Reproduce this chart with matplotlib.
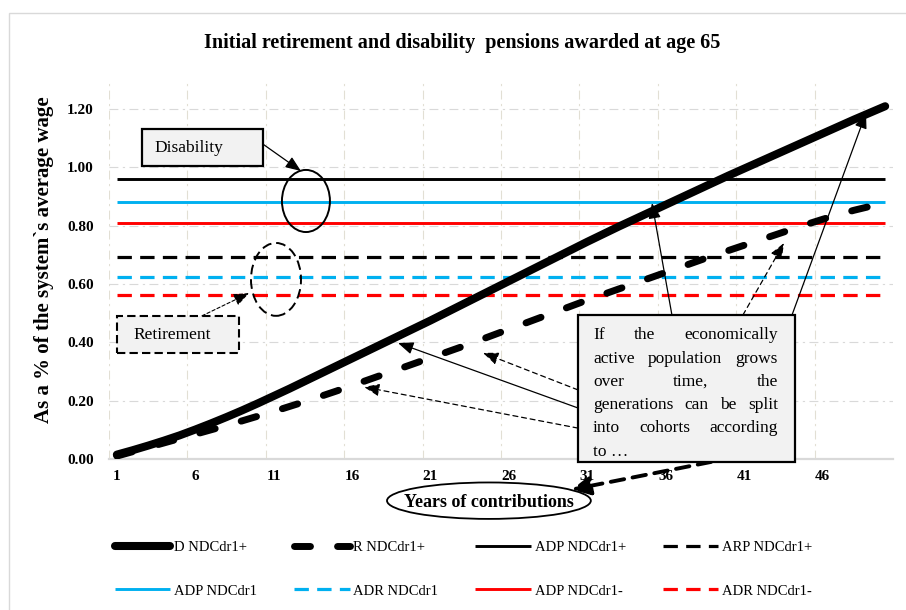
import matplotlib
matplotlib.use("Agg")
import matplotlib.pyplot as plt
from matplotlib.patches import Ellipse, Rectangle

plt.rcParams['font.family'] = ['Liberation Serif', 'DejaVu Serif']

# ---------------- data ----------------
years = list(range(1, 51))
d_ndcdr1_plus = [0.015, 0.030, 0.046, 0.063, 0.081, 0.101, 0.122, 0.144, 0.167, 0.191,
                 0.216, 0.241, 0.267, 0.293, 0.319, 0.345, 0.371, 0.397, 0.423, 0.449,
                 0.475, 0.502, 0.529, 0.556, 0.583, 0.610, 0.637, 0.664, 0.691, 0.718,
                 0.745, 0.771, 0.797, 0.822, 0.847, 0.872, 0.897, 0.922, 0.947, 0.972,
                 0.996, 1.020, 1.044, 1.068, 1.092, 1.116, 1.140, 1.164, 1.187, 1.210]
r_ndcdr1_plus = [0.010, 0.025, 0.040, 0.055, 0.070, 0.085, 0.100, 0.115, 0.131, 0.147,
                 0.163, 0.180, 0.197, 0.215, 0.233, 0.252, 0.271, 0.290, 0.309, 0.328,
                 0.347, 0.366, 0.385, 0.405, 0.425, 0.445, 0.465, 0.485, 0.505, 0.525,
                 0.545, 0.564, 0.583, 0.602, 0.621, 0.640, 0.659, 0.678, 0.697, 0.715,
                 0.733, 0.751, 0.769, 0.787, 0.805, 0.822, 0.838, 0.853, 0.866, 0.878]
adp_ndcdr1_plus = 0.961
arp_ndcdr1_plus = 0.693
adp_ndcdr1 = 0.883
adr_ndcdr1 = 0.625
adp_ndcdr1_minus = 0.809
adr_ndcdr1_minus = 0.563

xtick_values = [1, 6, 11, 16, 21, 26, 31, 36, 41, 46]
ytick_values = [0.0, 0.2, 0.4, 0.6, 0.8, 1.0, 1.2]

title = "Initial retirement and disability  pensions awarded at age 65"
ylabel = "As a % of the system`s average wage"
xlabel = "Years of contributions"
labels = ["D NDCdr1+", "R NDCdr1+", "ADP NDCdr1+", "ARP NDCdr1+",
          "ADP NDCdr1", "ADR NDCdr1", "ADP NDCdr1-", "ADR NDCdr1-"]
box_lines = ["If the economically", "active population grows", "over time, the",
             "generations can be split", "into cohorts according", "to \u2026"]

BLUE = '#00b0f0'
RED = '#ff0000'

# ---------------- figure ----------------
fig = plt.figure(figsize=(9.06, 6.10), dpi=100)
ax = fig.add_axes([109 / 906, 1 - 459 / 610, 784 / 906, 379 / 610])
ax.set_xlim(0.5, 50.5)
ax.set_ylim(0, 1.3)

n = len(years)
solid_kw = dict(lw=2.1, solid_capstyle='butt', zorder=2)
dash_kw = dict(lw=2.3, dashes=(4.5, 2.6), dash_capstyle='butt', zorder=2)
h_adp_p, = ax.plot(years, [adp_ndcdr1_plus] * n, color='black', **solid_kw)
h_arp_p, = ax.plot(years, [arp_ndcdr1_plus] * n, color='black', **dash_kw)
h_adp, = ax.plot(years, [adp_ndcdr1] * n, color=BLUE, **solid_kw)
h_adr, = ax.plot(years, [adr_ndcdr1] * n, color=BLUE, **dash_kw)
h_adp_m, = ax.plot(years, [adp_ndcdr1_minus] * n, color=RED, **solid_kw)
h_adr_m, = ax.plot(years, [adr_ndcdr1_minus] * n, color=RED, **dash_kw)
h_r, = ax.plot(years, r_ndcdr1_plus, color='black', lw=5.0, dashes=(2.3, 3.9),
               dash_capstyle='round', zorder=3)
h_d, = ax.plot(years, d_ndcdr1_plus, color='black', lw=5.8, solid_capstyle='round',
               solid_joinstyle='round', zorder=4)

# axes styling
for s in ['left', 'right', 'top']:
    ax.spines[s].set_visible(False)
ax.spines['bottom'].set_color('#d9d9d9')
ax.spines['bottom'].set_linewidth(1.6)
ax.set_xticks(xtick_values)
ax.set_xticks([0.5 + 5 * k for k in range(10)], minor=True)
ax.set_yticks(ytick_values)
ax.set_yticklabels([f"{v:.2f}" for v in ytick_values])
ax.tick_params(axis='both', which='both', length=0)
ax.tick_params(axis='y', pad=11, labelsize=11)
ax.tick_params(axis='x', pad=8, labelsize=11)
for lab in ax.get_xticklabels() + ax.get_yticklabels():
    lab.set_fontweight('bold')
ax.grid(axis='y', which='major', color='#d9d9d9', lw=0.8, linestyle=(0, (8, 4, 2, 4)), zorder=0)
ax.grid(axis='x', which='minor', color='#e2dfd4', lw=0.8, linestyle=(0, (8, 4, 2, 4)), zorder=0)
ax.set_axisbelow(True)

ax.set_ylabel(ylabel, fontsize=15, fontweight='bold')
ax.yaxis.set_label_coords(-0.07, 0.525)

fig.text(462 / 906, 1 - 43 / 610, title, ha='center', va='center', fontsize=14.5, fontweight='bold')

# outer border
fig.add_artist(Rectangle((9 / 906, -0.05), 1.0, 1 - 13 / 610 + 0.05, transform=fig.transFigure,
                         fill=False, edgecolor='#d9d9d9', lw=1.0))

# ---------------- annotations ----------------
head = '-|>,head_length=0.55,head_width=0.22'

# Disability box
ax.add_patch(Rectangle((2.60, 1.005), 7.72, 0.127, facecolor='#f2f2f2', edgecolor='black',
                       lw=1.6, zorder=6, clip_on=False))
ax.text(3.43, 1.066, "Disability", fontsize=12.5, va='center', ha='left', zorder=7)
ax.annotate("", xy=(12.74, 0.988), xytext=(10.32, 1.080),
            arrowprops=dict(arrowstyle=head, mutation_scale=17, color='black', lw=0.9,
                            shrinkA=0, shrinkB=0), zorder=7)
ax.add_patch(Ellipse((13.06, 0.885), 3.06, 0.213, fill=False, edgecolor='black', lw=1.4, zorder=6))

# Retirement box
ax.add_patch(Rectangle((1.01, 0.364), 7.78, 0.127, facecolor='#f2f2f2', edgecolor='black',
                       lw=1.5, linestyle=(0, (4, 2)), zorder=6))
ax.text(2.09, 0.424, "Retirement", fontsize=12.5, va='center', ha='left', zorder=7)
ax.annotate("", xy=(9.43, 0.569), xytext=(6.43, 0.491),
            arrowprops=dict(arrowstyle=head, mutation_scale=17, color='black', lw=0.8,
                            linestyle=(0, (3, 2)), shrinkA=0, shrinkB=0), zorder=7)
ax.add_patch(Ellipse((11.15, 0.616), 3.19, 0.250, fill=False, edgecolor='black', lw=1.4,
                     linestyle=(0, (5, 2.5)), zorder=6))

# Big explanatory box
ax.add_patch(Rectangle((30.41, -0.010), 13.84, 0.504, facecolor='#f2f2f2', edgecolor='black',
                       lw=1.6, zorder=8, clip_on=False))

arrows = [((36.4, 0.494), (35.13, 0.878), '-'),
          ((44.06, 0.494), (48.78, 1.187), '-'),
          ((40.93, 0.494), (43.55, 0.741), '--'),
          ((30.41, 0.175), (18.93, 0.398), '-'),
          ((30.41, 0.237), (24.35, 0.364), '--'),
          ((30.41, 0.106), (16.76, 0.247), '--')]
for start, end, ls in arrows:
    ax.annotate("", xy=end, xytext=start,
                arrowprops=dict(arrowstyle=head, mutation_scale=17, color='black', lw=0.9,
                                linestyle='-' if ls == '-' else (0, (4, 3)),
                                shrinkA=0, shrinkB=0), zorder=7)

# thick dashed arrow to x-axis title
ax.annotate("", xy=(30.0, -0.105), xytext=(38.9, -0.010), annotation_clip=False,
            arrowprops=dict(arrowstyle='-|>,head_length=0.5,head_width=0.25', mutation_scale=22,
                            color='black', lw=2.8, linestyle=(0, (3.5, 2.2)),
                            shrinkA=0, shrinkB=0), zorder=7)

# x axis title in ellipse
ax.add_patch(Ellipse((24.73, -0.143), 13.0, 0.125, fill=False, edgecolor='black', lw=1.3,
                     zorder=6, clip_on=False))
ax.text(24.73, -0.150, xlabel, fontsize=13, fontweight='bold', ha='center', va='center',
        zorder=7, clip_on=False)

# justified text inside the big box
fig.canvas.draw()
renderer = fig.canvas.get_renderer()
box_ys = [0.425, 0.343, 0.264, 0.185, 0.106, 0.024]
FS = 12.5
X0 = ax.transData.transform((31.37, 0))[0]
X1 = ax.transData.transform((43.17, 0))[0]
inv = ax.transData.inverted()
for k, (line, y) in enumerate(zip(box_lines, box_ys)):
    words = line.split(' ')
    if k == len(box_lines) - 1 or len(words) == 1:
        ax.text(31.37, y, line, fontsize=FS, va='center', ha='left', zorder=10, clip_on=False)
        continue
    tmp = [ax.text(0, y, w, fontsize=FS) for w in words]
    widths = [t.get_window_extent(renderer).width for t in tmp]
    for t in tmp:
        t.remove()
    gap = (X1 - X0 - sum(widths)) / (len(words) - 1)
    X = X0
    for w, wd in zip(words, widths):
        xd = inv.transform((X, 0))[0]
        ax.text(xd, y, w, fontsize=FS, va='center', ha='left', zorder=10, clip_on=False)
        X += wd + gap

# ---------------- legend ----------------
handles = [h_d, h_adp, h_r, h_adr, h_adp_p, h_adp_m, h_arp_p, h_adr_m]
leg_labels = [labels[0], labels[4], labels[1], labels[5], labels[2], labels[6], labels[3], labels[7]]
fig.legend(handles, leg_labels, loc='center left', bbox_to_anchor=(115 / 906, 1 - 569 / 610),
           ncol=4, frameon=False, fontsize=10.5, handlelength=3.8, handletextpad=0.25,
           columnspacing=2.55, labelspacing=2.1, borderpad=0, borderaxespad=0)

fig.savefig('out.png', dpi=100)
